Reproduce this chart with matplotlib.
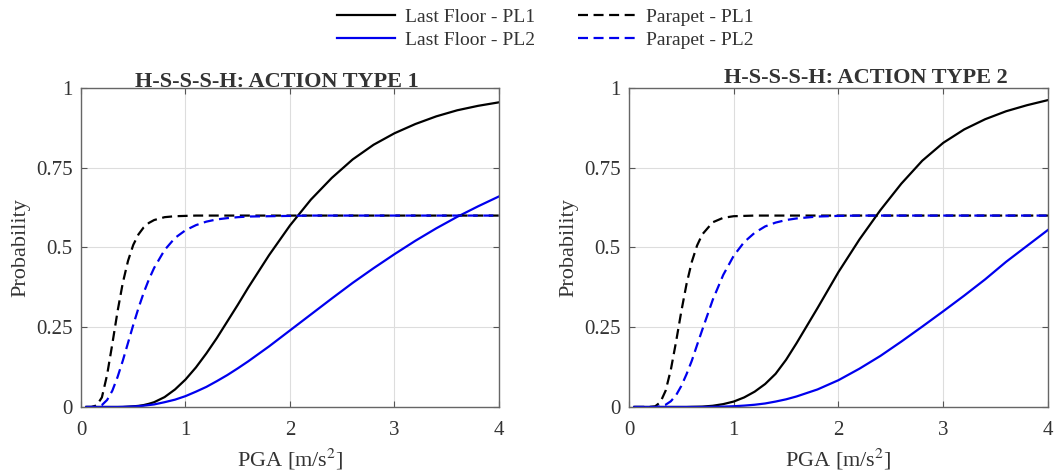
import matplotlib
matplotlib.use('Agg')
import matplotlib.pyplot as plt

# Общая сетка PGA [m/s^2]
pga = [0.05, 0.1, 0.15, 0.2, 0.25, 0.3, 0.35, 0.4, 0.45, 0.5, 0.55, 0.6, 0.65, 0.7,
       0.8, 0.9, 1.0, 1.1, 1.2, 1.3, 1.4, 1.5, 1.6, 1.8, 2.0, 2.2, 2.4, 2.6, 2.8, 3.0,
       3.2, 3.4, 3.6, 3.8, 4.0]

# ACTION TYPE 1
t1_floor_pl1 = [0, 0, 0, 0, 0, 0, 0, 0, 0.001, 0.002, 0.0035, 0.006, 0.010, 0.015,
                0.031, 0.055, 0.086, 0.124, 0.168, 0.216, 0.268, 0.320, 0.374, 0.476,
                0.569, 0.650, 0.718, 0.776, 0.822, 0.858, 0.887, 0.911, 0.930, 0.944,
                0.955]
t1_floor_pl2 = [0, 0, 0, 0, 0, 0, 0, 0.0005, 0.0009, 0.0016, 0.0025, 0.004, 0.006, 0.008,
                0.015, 0.023, 0.034, 0.048, 0.063, 0.081, 0.100, 0.121, 0.143, 0.190,
                0.240, 0.290, 0.340, 0.389, 0.435, 0.479, 0.521, 0.560, 0.596, 0.629,
                0.660]
t1_parapet_pl1 = [0, 0, 0.005, 0.030, 0.101, 0.198, 0.300, 0.389, 0.458, 0.508, 0.541,
                  0.563, 0.577, 0.586, 0.595, 0.598, 0.599, 0.6, 0.6, 0.6, 0.6, 0.6, 0.6,
                  0.6, 0.6, 0.6, 0.6, 0.6, 0.6, 0.6, 0.6, 0.6, 0.6, 0.6, 0.6]
t1_parapet_pl2 = [0, 0, 0.001, 0.006, 0.022, 0.051, 0.094, 0.145, 0.201, 0.257, 0.310,
                  0.358, 0.400, 0.436, 0.492, 0.530, 0.554, 0.570, 0.581, 0.588, 0.592,
                  0.595, 0.597, 0.598, 0.599, 0.6, 0.6, 0.6, 0.6, 0.6, 0.6, 0.6, 0.6,
                  0.6, 0.6]

# ACTION TYPE 2
t2_floor_pl1 = [0, 0, 0, 0, 0, 0, 0, 0, 0, 0, 0, 0.0005, 0.0008, 0.0012,
                0.0038, 0.009, 0.017, 0.030, 0.048, 0.072, 0.104, 0.148, 0.200, 0.310,
                0.423, 0.525, 0.617, 0.700, 0.772, 0.828, 0.870, 0.902, 0.927, 0.946,
                0.962]
t2_floor_pl2 = [0, 0, 0, 0, 0, 0, 0, 0, 0, 0, 0, 0, 0, 0,
                0.0005, 0.0011, 0.0023, 0.0043, 0.007, 0.011, 0.017, 0.024, 0.033, 0.055,
                0.084, 0.120, 0.160, 0.205, 0.252, 0.300, 0.349, 0.400, 0.455, 0.505,
                0.555]
t2_parapet_pl1 = [0, 0, 0, 0, 0.002, 0.015, 0.051, 0.117, 0.205, 0.300, 0.386, 0.455,
                  0.506, 0.541, 0.579, 0.593, 0.598, 0.599, 0.6, 0.6, 0.6, 0.6, 0.6, 0.6,
                  0.6, 0.6, 0.6, 0.6, 0.6, 0.6, 0.6, 0.6, 0.6, 0.6, 0.6]
t2_parapet_pl2 = [0, 0, 0, 0, 0, 0.002, 0.007, 0.018, 0.037, 0.066, 0.103, 0.145, 0.194,
                  0.242, 0.336, 0.414, 0.474, 0.517, 0.546, 0.566, 0.578, 0.586, 0.591,
                  0.597, 0.599, 0.6, 0.6, 0.6, 0.6, 0.6, 0.6, 0.6, 0.6, 0.6, 0.6]

titles = ['H-S-S-S-H: ACTION TYPE 1', 'H-S-S-S-H: ACTION TYPE 2']
x_ticks = [0, 1, 2, 3, 4]
y_ticks = [0, 0.25, 0.5, 0.75, 1]
y_tick_labels = ['0', '0.25', '0.5', '0.75', '1']

plt.rcParams['font.family'] = ['Liberation Serif', 'DejaVu Serif']
plt.rcParams['mathtext.fontset'] = 'stix'

text_color = '#333333'
dash = (0, (4.5, 2.5))

fig = plt.figure(figsize=(10.56, 4.75), dpi=100)
ax1 = fig.add_axes([0.0767, 0.1432, 0.3958, 0.6716])
ax2 = fig.add_axes([0.5956, 0.1432, 0.3968, 0.6716])

data = [
    (ax1, t1_floor_pl1, t1_floor_pl2, t1_parapet_pl1, t1_parapet_pl2),
    (ax2, t2_floor_pl1, t2_floor_pl2, t2_parapet_pl1, t2_parapet_pl2),
]

handles = []
for ax, f1, f2, p1, p2 in data:
    h1, = ax.plot(pga, f1, color='black', lw=1.6, label='Last Floor - PL1')
    h2, = ax.plot(pga, f2, color='#0000ee', lw=1.6, label='Last Floor - PL2')
    h3, = ax.plot(pga, p1, color='black', lw=1.6, ls=dash, label='Parapet - PL1')
    h4, = ax.plot(pga, p2, color='#0000ee', lw=1.6, ls=dash, label='Parapet - PL2')
    handles = [h1, h2, h3, h4]

    ax.set_xlim(0, 4)
    ax.set_ylim(0, 1)
    ax.set_xticks(x_ticks)
    ax.set_yticks(y_ticks)
    ax.set_yticklabels(y_tick_labels)
    ax.grid(True, color='#dddddd', lw=0.8)
    ax.set_axisbelow(True)
    ax.tick_params(direction='in', top=True, right=True, length=4, width=0.8,
                   labelsize=15, colors='#555555', labelcolor=text_color, pad=6)
    ax.tick_params(axis='x', pad=10)
    for sp in ax.spines.values():
        sp.set_color('#666666')
        sp.set_linewidth(1.0)
    ax.set_xlabel(r'PGA [m/s$^{2}$]', fontsize=16, color=text_color, labelpad=5)
    ax.set_ylabel('Probability', fontsize=16, color=text_color, labelpad=4)

# Заголовки немного смещены относительно центра осей
fig.text(277 / 1056, 1 - 87 / 475, titles[0], ha='center', va='baseline',
         fontsize=16, fontweight='bold', color=text_color)
fig.text(866 / 1056, 1 - 83 / 475, titles[1], ha='center', va='baseline',
         fontsize=16, fontweight='bold', color=text_color)

fig.legend(handles=handles, loc='center', bbox_to_anchor=(545 / 1056, 1 - 28.5 / 475),
           ncol=2, frameon=False, fontsize=14, handlelength=3.0, handletextpad=0.5,
           columnspacing=2.2, labelspacing=0.3, borderpad=0.1, labelcolor=text_color)

fig.savefig('out.png', dpi=100)
plt.close(fig)
